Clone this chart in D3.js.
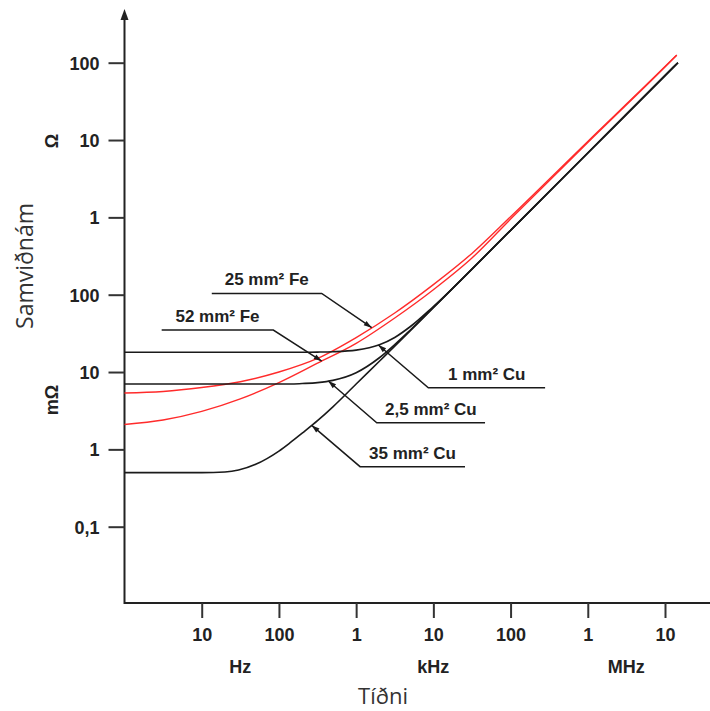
<!DOCTYPE html>
<html>
<head>
<meta charset="utf-8">
<script src="https://cdn.jsdelivr.net/npm/d3@7"></script>
<style>
  body { margin: 0; background: #fff; }
  svg { display: block; }
</style>
</head>
<body>
<svg id="chart" width="710" height="711"></svg>
<script>
'use strict'

//---------------------------Datos (Hz, Ohm)--------------------------------//
const freqCu = [1, 10, 20, 30, 50, 70, 100, 140, 200, 316, 500, 1000, 2000, 3160, 5000, 1e4, 1e5, 1e6, 1e7, 1.47e7];
const cu35 = [0.0005, 0.0005, 0.00051, 0.00054, 0.00064, 0.00076, 0.00095, 0.00122, 0.00162, 0.00235, 0.00355, 0.007, 0.0138, 0.0216, 0.034, 0.068, 0.68, 6.8, 68, 100];
const cu2_5 = [0.007, 0.007, 0.007, 0.007, 0.007, 0.007, 0.007, 0.007, 0.0071, 0.0073, 0.0078, 0.0098, 0.0153, 0.0226, 0.0347, 0.0684, 0.68, 6.8, 68, 100];
const cu1 = [0.018, 0.018, 0.018, 0.018, 0.018, 0.018, 0.018, 0.018, 0.018, 0.0181, 0.0183, 0.0192, 0.0225, 0.028, 0.0385, 0.0703, 0.68, 6.8, 68, 100];

const freqFe = [1, 3.16, 10, 31.6, 100, 316, 1000, 3160, 1e4, 3.16e4, 1e5, 1e6, 1e7, 1.42e7];
const fe25 = [0.00535, 0.0056, 0.0063, 0.0075, 0.0100, 0.0150, 0.0279, 0.058, 0.135, 0.342, 1.02, 9.6, 89, 126];
const fe52 = [0.0021, 0.0024, 0.0031, 0.0045, 0.0073, 0.0130, 0.0235, 0.050, 0.116, 0.298, 0.95, 9.3, 88, 125];

const seriesNames = ['25 mm² Fe', '52 mm² Fe', '1 mm² Cu', '2,5 mm² Cu', '35 mm² Cu'];

const xTicks = [10, 100, 1e3, 1e4, 1e5, 1e6, 1e7];
const xTickLabels = ['10', '100', '1', '10', '100', '1', '10'];
const xUnits = ['Hz', 'kHz', 'MHz'];
const xUnitAt = [31.6, 1e4, 3.16e6];

const yTicks = [1e-4, 1e-3, 1e-2, 1e-1, 1, 10, 100];
const yTickLabels = ['0,1', '1', '10', '100', '1', '10', '100'];
const yUnits = ['mΩ', 'Ω'];
const yUnitAt = [0.00435, 9.7];

//---------------------------Escalas--------------------------------//
const left = 124.5, bottom = 603;
const x = d3.scaleLog().domain([1, 1e7]).range([left, 665]);
const y = d3.scaleLog().domain([1e-4, 100]).range([526.7, 62.7]);

const svg = d3.select('#chart');
const tickFont = '"Liberation Sans", Arial, sans-serif';
const titleFont = '"Open Sans", "Noto Sans", sans-serif';

const series = [
  { name: seriesNames[0], freq: freqFe, values: fe25, color: '#ff2b2b', width: 1.4 },
  { name: seriesNames[1], freq: freqFe, values: fe52, color: '#ff2b2b', width: 1.4 },
  { name: seriesNames[2], freq: freqCu, values: cu1, color: '#1a1a1a', width: 1.6 },
  { name: seriesNames[3], freq: freqCu, values: cu2_5, color: '#1a1a1a', width: 1.6 },
  { name: seriesNames[4], freq: freqCu, values: cu35, color: '#1a1a1a', width: 1.6 }
];

// Ejes
svg.append('line')
  .attr('x1', left).attr('x2', 712)
  .attr('y1', bottom).attr('y2', bottom)
  .attr('stroke', '#222').attr('stroke-width', 2);
svg.append('line')
  .attr('x1', left).attr('x2', left)
  .attr('y1', bottom + 1).attr('y2', 16)
  .attr('stroke', '#222').attr('stroke-width', 2);
svg.append('path')
  .attr('d', `M${left},9 L${left - 4},20 L${left + 4},20 Z`)
  .attr('fill', '#222');

const xAxis = svg.append('g')
  .attr('transform', `translate(0,${bottom})`)
  .call(d3.axisBottom(x).tickValues(xTicks).tickSize(15).tickPadding(10)
    .tickFormat((d, i) => xTickLabels[i]));
xAxis.select('.domain').remove();
xAxis.selectAll('line').attr('stroke', '#333').attr('stroke-width', 2);
xAxis.selectAll('text')
  .attr('font-family', tickFont).attr('font-size', 18).attr('font-weight', 'bold')
  .attr('fill', '#222');

const yAxis = svg.append('g')
  .attr('transform', `translate(${left},0)`)
  .call(d3.axisLeft(y).tickValues(yTicks).tickSize(16).tickPadding(9)
    .tickFormat((d, i) => yTickLabels[i]));
yAxis.select('.domain').remove();
yAxis.selectAll('line').attr('stroke', '#333').attr('stroke-width', 2);
yAxis.selectAll('text')
  .attr('font-family', tickFont).attr('font-size', 18).attr('font-weight', 'bold')
  .attr('fill', '#222').attr('dy', '0.36em');

// Unidades
svg.selectAll('.xunit').data(xUnits).enter().append('text')
  .attr('x', (d, i) => x(xUnitAt[i])).attr('y', 673)
  .attr('text-anchor', 'middle')
  .attr('font-family', tickFont).attr('font-size', 18).attr('font-weight', 'bold')
  .attr('fill', '#222')
  .text(d => d);

svg.selectAll('.yunit').data(yUnits).enter().append('text')
  .attr('transform', (d, i) => `translate(58,${y(yUnitAt[i])}) rotate(-90)`)
  .attr('text-anchor', 'middle')
  .attr('font-family', tickFont).attr('font-size', 18).attr('font-weight', 'bold')
  .attr('fill', '#222')
  .text(d => d);

// Titulos
svg.append('text')
  .attr('transform', 'translate(33,266) rotate(-90)')
  .attr('text-anchor', 'middle')
  .attr('font-family', titleFont).attr('font-size', 23)
  .attr('fill', '#333')
  .text('Samviðnám');
svg.append('text')
  .attr('x', 383).attr('y', 704)
  .attr('text-anchor', 'middle')
  .attr('font-family', titleFont).attr('font-size', 22)
  .attr('fill', '#333')
  .text('Tíðni');

//---------------------------Curvas--------------------------------//
const line = d3.line()
  .x(d => x(d[0]))
  .y(d => y(d[1]))
  .curve(d3.curveMonotoneX);

series.forEach(s => {
  svg.append('path')
    .datum(s.freq.map((f, i) => [f, s.values[i]]))
    .attr('fill', 'none')
    .attr('stroke', s.color)
    .attr('stroke-width', s.width)
    .attr('d', line);
});

//---------------------------Etiquetas con flecha--------------------------------//
// valor de la serie en una frecuencia (interpolado en log-log)
function valueAt(s, f) {
  const lf = Math.log10(f);
  for (let i = 1; i < s.freq.length; i++) {
    if (f <= s.freq[i]) {
      const a = Math.log10(s.freq[i - 1]), b = Math.log10(s.freq[i]);
      const t = (lf - a) / (b - a);
      return Math.pow(10, Math.log10(s.values[i - 1]) + t * (Math.log10(s.values[i]) - Math.log10(s.values[i - 1])));
    }
  }
  return s.values[s.values.length - 1];
}

const labels = [
  { s: 0, tipF: 1590, elbowF: 358, endF: 13.5, shelfZ: 0.104 },
  { s: 1, tipF: 358, elbowF: 84.6, endF: 3.03, shelfZ: 0.0349 },
  { s: 2, tipF: 1940, elbowF: 8610, endF: 2.8e5, shelfZ: 0.00627 },
  { s: 3, tipF: 436, elbowF: 1850, endF: 4.67e4, shelfZ: 0.00221 },
  { s: 4, tipF: 266, elbowF: 1124, endF: 2.57e4, shelfZ: 0.000597 }
];

labels.forEach(l => {
  const s = series[l.s];
  const tx = x(l.tipF), ty = y(valueAt(s, l.tipF));
  const ex = x(l.elbowF), ey = y(l.shelfZ);
  const endx = x(l.endF);

  svg.append('path')
    .attr('d', `M${endx},${ey} L${ex},${ey} L${tx},${ty}`)
    .attr('fill', 'none')
    .attr('stroke', '#1a1a1a')
    .attr('stroke-width', 1.5);

  // punta de flecha
  const ang = Math.atan2(ty - ey, tx - ex);
  const len = 8, half = 2.6;
  const bx = tx - len * Math.cos(ang), by = ty - len * Math.sin(ang);
  const px = -Math.sin(ang) * half, py = Math.cos(ang) * half;
  svg.append('path')
    .attr('d', `M${tx},${ty} L${bx + px},${by + py} L${bx - px},${by - py} Z`)
    .attr('fill', '#1a1a1a');

  svg.append('text')
    .attr('x', (ex + endx) / 2).attr('y', ey - 8)
    .attr('text-anchor', 'middle')
    .attr('font-family', tickFont).attr('font-size', 17).attr('font-weight', 'bold')
    .attr('fill', '#222')
    .text(s.name);
});
</script>
</body>
</html>
